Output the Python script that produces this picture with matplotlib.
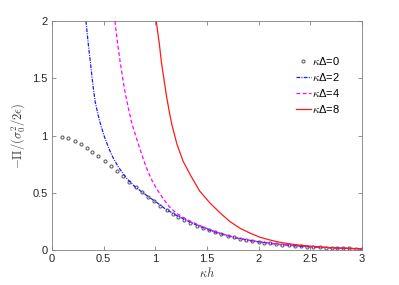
import numpy as np
import matplotlib
matplotlib.use('Agg')
import matplotlib.pyplot as plt

plt.rcParams['font.family'] = ['Liberation Sans', 'DejaVu Sans']
plt.rcParams['mathtext.fontset'] = 'cm'

# kappa*Delta = 0 (open circles)
kh0 = [0.10, 0.16, 0.22, 0.28, 0.34, 0.39, 0.45, 0.51, 0.57, 0.63,
       0.69, 0.75, 0.81, 0.87, 0.93, 0.99, 1.05, 1.11, 1.17, 1.22,
       1.28, 1.34, 1.40, 1.46, 1.52, 1.58, 1.64, 1.70, 1.76, 1.82,
       1.88, 1.94, 2.00, 2.05, 2.11, 2.17, 2.23, 2.29, 2.35, 2.41,
       2.47, 2.53, 2.59, 2.65, 2.71, 2.76, 2.82, 2.88, 2.94, 3.00]
pi0 = [0.99, 0.975, 0.953, 0.925, 0.895, 0.86, 0.82, 0.78, 0.735, 0.69,
       0.645, 0.598, 0.552, 0.507, 0.465, 0.425, 0.387, 0.351, 0.318, 0.29,
       0.262, 0.236, 0.212, 0.19, 0.171, 0.153, 0.137, 0.122, 0.109, 0.098,
       0.087, 0.078, 0.071, 0.064, 0.057, 0.051, 0.045, 0.040, 0.036, 0.032,
       0.029, 0.026, 0.023, 0.020, 0.018, 0.016, 0.014, 0.013, 0.011, 0.010]

# kappa*Delta = 2
kh2 = [0.33, 0.35, 0.37, 0.40, 0.42, 0.45, 0.48, 0.51, 0.55, 0.59,
       0.64, 0.69, 0.74, 0.80, 0.87, 0.95, 1.00, 1.10, 1.20, 1.30,
       1.40, 1.50, 1.60, 1.70, 1.80, 1.90, 2.00, 2.20, 2.40, 2.60,
       2.80, 3.00]
pi2 = [2.00, 1.82, 1.66, 1.42, 1.29, 1.17, 1.07, 0.985, 0.89, 0.81,
       0.73, 0.665, 0.61, 0.556, 0.508, 0.455, 0.425, 0.357, 0.305, 0.26,
       0.217, 0.181, 0.15, 0.124, 0.102, 0.084, 0.071, 0.048, 0.032, 0.022,
       0.015, 0.010]

# kappa*Delta = 4
kh4 = [0.61, 0.635, 0.66, 0.685, 0.71, 0.74, 0.77, 0.81, 0.85, 0.89,
       0.93, 0.97, 1.02, 1.08, 1.14, 1.20, 1.26, 1.32, 1.38, 1.44,
       1.50, 1.60, 1.80, 2.00, 2.20, 2.50, 2.80, 3.00]
pi4 = [2.00, 1.81, 1.65, 1.50, 1.37, 1.24, 1.12, 1.00, 0.89, 0.78,
       0.685, 0.605, 0.525, 0.445, 0.375, 0.325, 0.29, 0.26, 0.235, 0.21,
       0.188, 0.153, 0.103, 0.072, 0.049, 0.028, 0.015, 0.010]

# kappa*Delta = 8
kh8 = [1.01, 1.04, 1.06, 1.09, 1.11, 1.14, 1.16, 1.21, 1.27, 1.34,
       1.43, 1.53, 1.63, 1.72, 1.82, 1.92, 2.01, 2.11, 2.20, 2.30,
       2.40, 2.50, 2.60, 2.70, 2.80, 2.90, 3.00]
pi8 = [2.00, 1.80, 1.64, 1.46, 1.34, 1.19, 1.10, 0.925, 0.775, 0.655,
       0.515, 0.41, 0.322, 0.25, 0.19, 0.146, 0.112, 0.087, 0.068, 0.053,
       0.042, 0.033, 0.026, 0.020, 0.016, 0.013, 0.010]

fig = plt.figure(figsize=(3.99, 2.85), dpi=100)
ax = fig.add_axes([0.130, 0.123, 0.777, 0.803])

ax.plot(kh0, pi0, 'o', ms=2.2, mfc='none', mec='#666666', mew=0.8, label=r'$\kappa$Δ=0')
ax.plot(kh2, pi2, color='#1a1aff', lw=0.9, dashes=[3, 1, 0.8, 1], label=r'$\kappa$Δ=2')
ax.plot(kh4, pi4, '--', color='#ff00ff', lw=0.9, dashes=[3, 2], label=r'$\kappa$Δ=4')
ax.plot(kh8, pi8, '-', color='#ff1a1a', lw=0.9, label=r'$\kappa$Δ=8')

ax.set_xlim(0, 3)
ax.set_ylim(0, 2)
ax.set_xticks([0, 0.5, 1, 1.5, 2, 2.5, 3])
ax.set_xticklabels(['0', '0.5', '1', '1.5', '2', '2.5', '3'])
ax.set_yticks([0, 0.5, 1, 1.5, 2])
ax.set_yticklabels(['0', '0.5', '1', '1.5', '2'])
ax.tick_params(direction='in', top=True, right=True, length=3, width=0.6,
               colors='#808080', labelcolor='#262626', labelsize=8, pad=3)
for s in ax.spines.values():
    s.set_color('#808080')
    s.set_linewidth(0.6)

ax.set_xlabel(r'$\kappa h$', fontsize=9, color='#404040', labelpad=1)
ax.set_ylabel(r'$-\Pi/(\sigma_0^2/2\epsilon)$', fontsize=9, color='#404040', labelpad=4)

ax.legend(loc='upper right', bbox_to_anchor=(0.963, 0.895), frameon=False, fontsize=8,
          handlelength=1.3, handletextpad=0.15, labelspacing=0.35, markerscale=1.0)

fig.savefig('out.png', dpi=100)
